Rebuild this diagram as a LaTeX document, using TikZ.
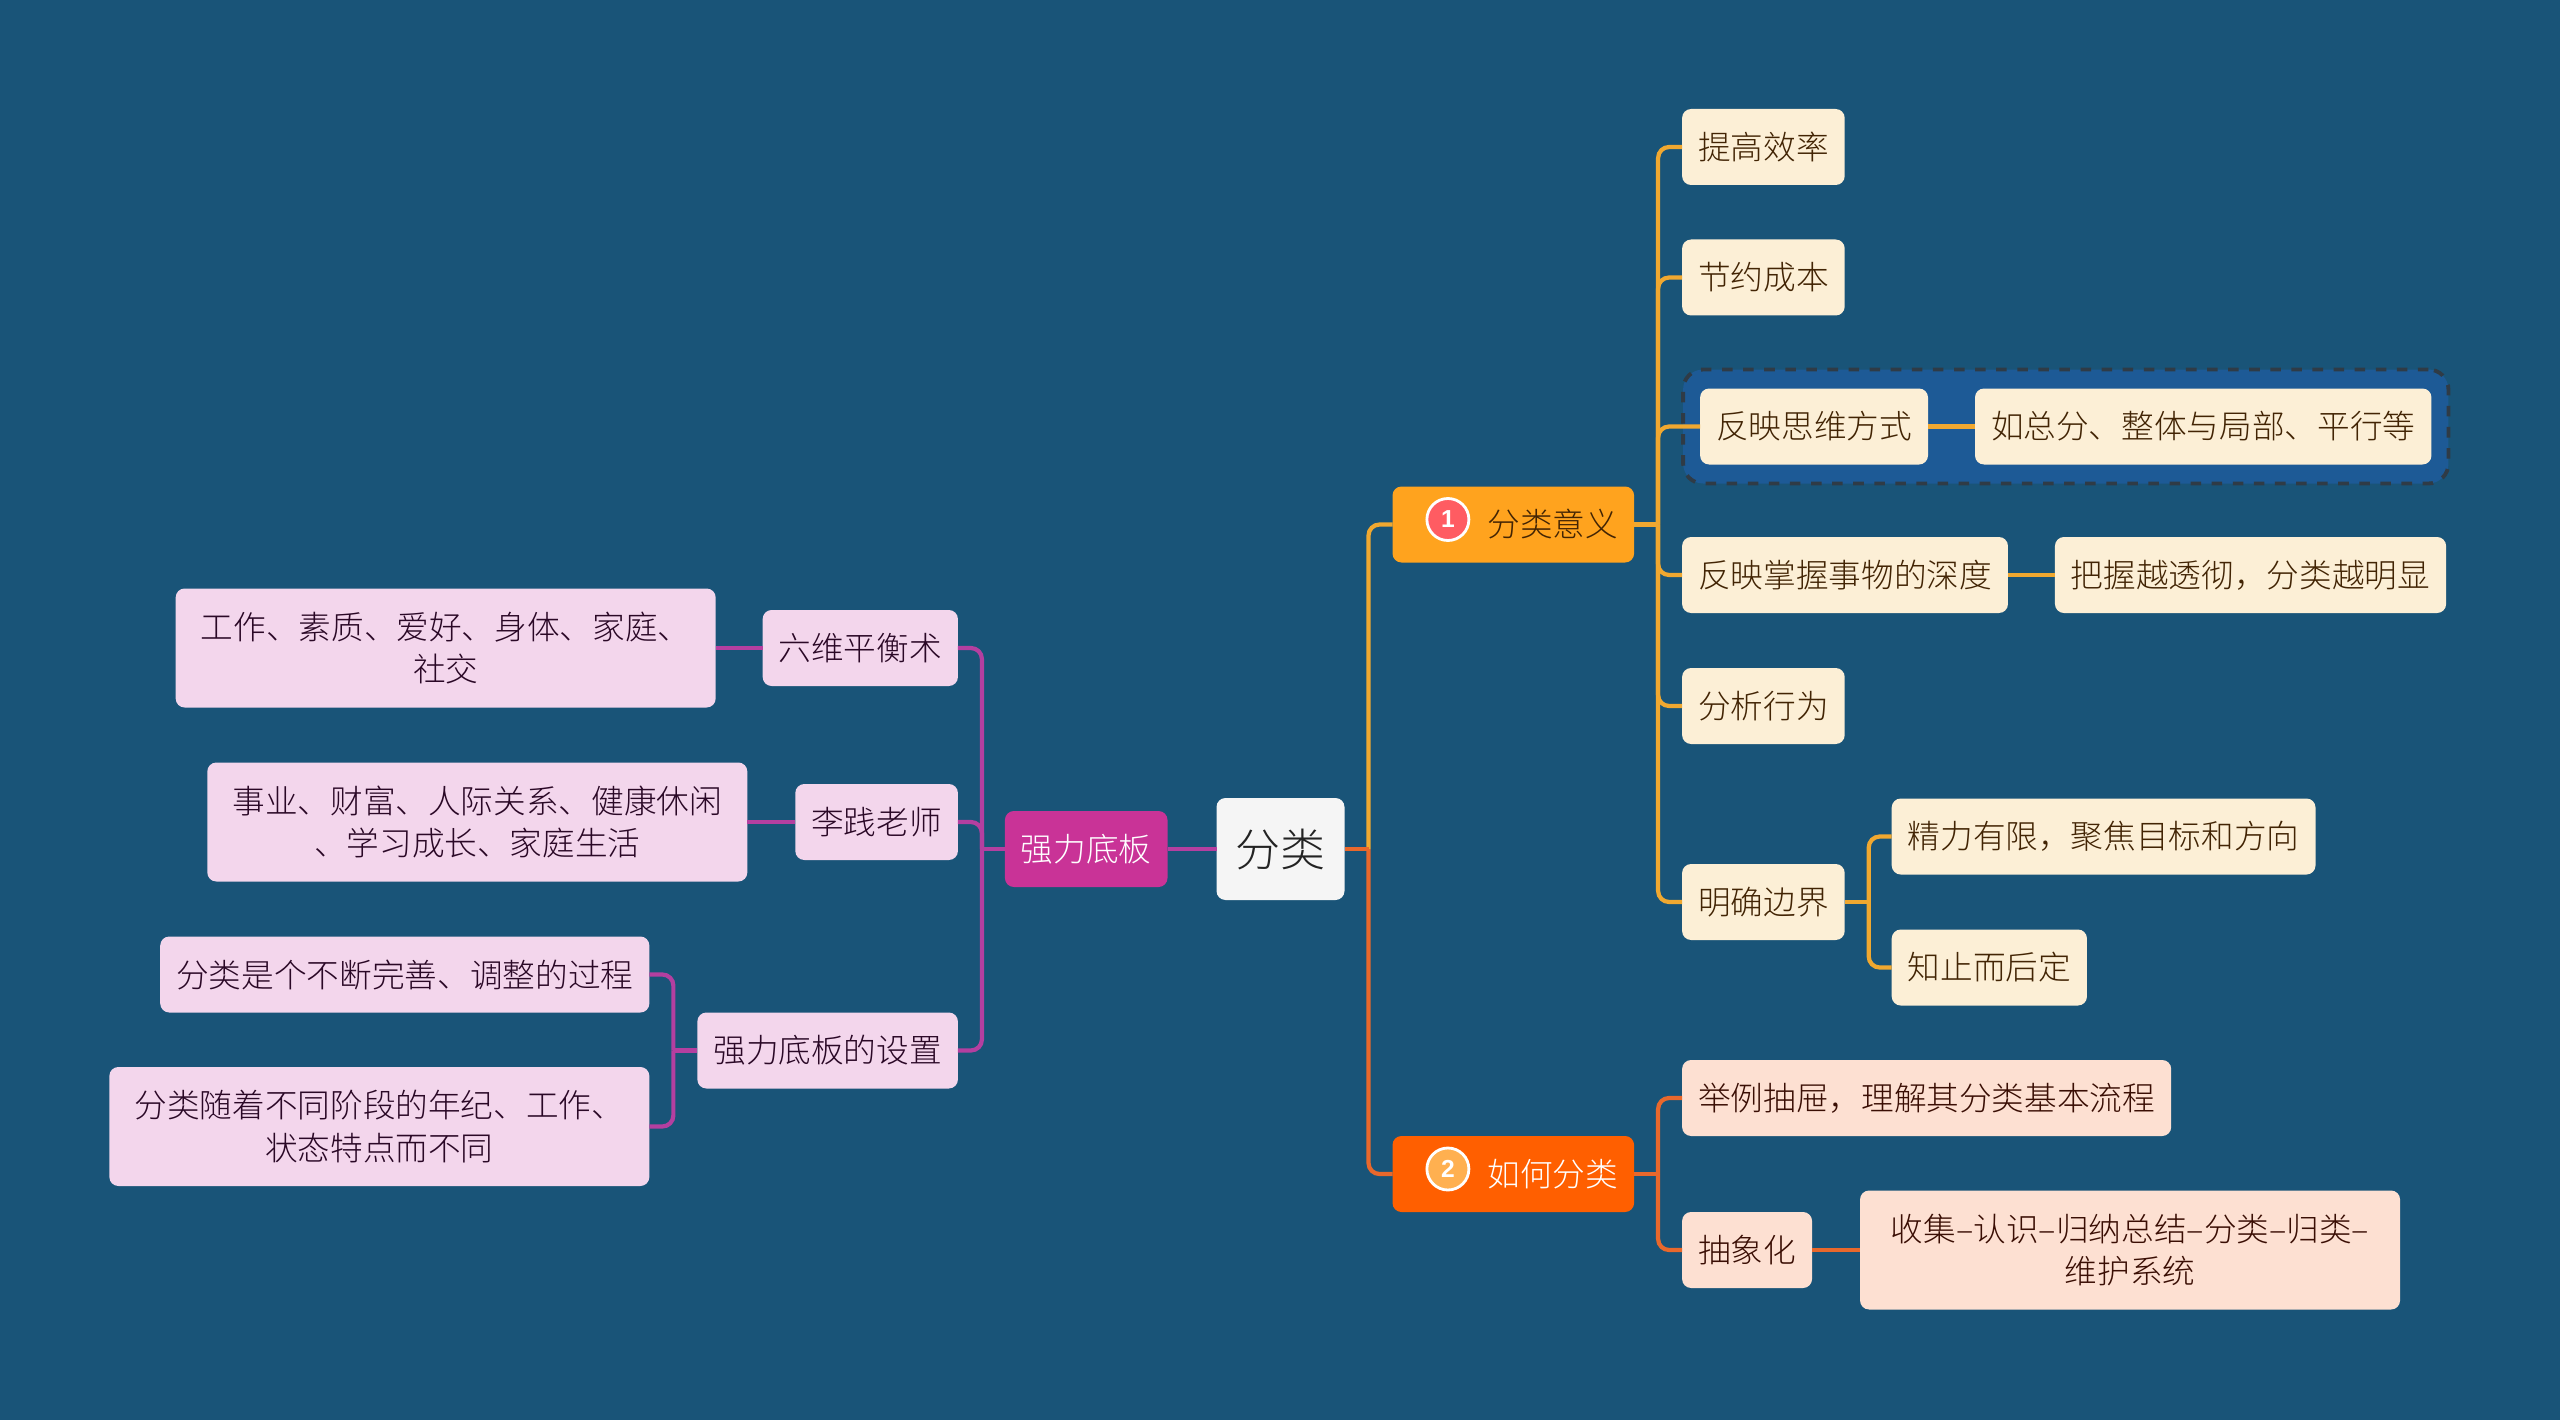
\documentclass[tikz,border=0pt]{standalone}
\usepackage{fontspec}
\setmainfont{Noto Sans CJK SC}[UprightFont=* Light]
\newfontfamily\numfont{Liberation Sans}
\usepackage{xcolor}
\usetikzlibrary{
  positioning,
  fit,
  backgrounds
}
\definecolor{pagebg}{RGB}{25, 84, 120}
\definecolor{rootbg}{RGB}{245, 245, 245}
\definecolor{rootink}{RGB}{35, 35, 35}
\definecolor{amberbg}{RGB}{255, 163, 30}
\definecolor{amberline}{RGB}{240, 168, 48}
\definecolor{amberink}{RGB}{66, 36, 4}
\definecolor{creambg}{RGB}{252, 239, 214}
\definecolor{emberbg}{RGB}{255, 95, 0}
\definecolor{emberline}{RGB}{232, 104, 44}
\definecolor{emberink}{RGB}{58, 14, 4}
\definecolor{peachbg}{RGB}{253, 224, 210}
\definecolor{plumbg}{RGB}{201, 51, 151}
\definecolor{plumline}{RGB}{180, 63, 160}
\definecolor{plumink}{RGB}{42, 8, 38}
\definecolor{pinkbg}{RGB}{243, 214, 236}
\definecolor{framebg}{RGB}{29, 90, 150}
\definecolor{frameink}{RGB}{47, 59, 70}
\definecolor{badgered}{RGB}{255, 92, 98}
\definecolor{badgeamber}{RGB}{255, 176, 80}
\tikzset{
  base/.style = {
    rectangle, rounded corners=0.09cm, inner xsep=0.16cm, inner ysep=0pt,
    outer sep=0pt, minimum height=0.76cm, align=center,
    font=\fontsize{9.29}{12.2}\selectfont
  },
  rootnode/.style = {
    base, fill=rootbg, text=rootink, minimum height=1.02cm,
    inner xsep=0.19cm, font=\fontsize{12.8}{15}\selectfont
  },
  topic/.style = {base, fill=#1bg, draw=none},
  leaf/.style = {base, fill=#1},
  wide/.style = {minimum height=1.19cm, text width=5.08cm},
  lnk/.style = {draw=#1, line width=1.2pt, rounded corners=0.11cm},
  badge/.style = {
    circle, draw=white, line width=0.8pt, fill=#1, text=white,
    minimum size=0.42cm, inner sep=0pt,
    font=\numfont\bfseries\fontsize{7}{7}\selectfont
  },
  bbox/.style = {
    draw=frameink, dashed, line width=1.1pt, fill=framebg,
    rounded corners=0.2cm, inner xsep=0.17cm, inner ysep=0.19cm
  },
}
\begin{document}
\begin{tikzpicture}

  %% -- page ----------------------------------------------------------------
  \useasboundingbox (0,0) rectangle (25.6,14.19);
  \begin{pgfonlayer}{background}
    \fill[pagebg] (-0.1,-0.1) rectangle (25.7,14.3);
  \end{pgfonlayer}

  \node[rootnode] (root) at (12.805,5.70) {分类};

  %% -- right side, first topic ---------------------------------------------
  \node[topic=amber, text=amberink, right=0.48cm of root, yshift=3.245cm] (meaning)
    {\hspace*{0.79cm}分类意义};
  \node[badge=badgered, right=0.33cm of meaning.west, yshift=0.05cm] (num1) {1};

  \node[leaf=creambg, text=amberink, right=0.48cm of meaning, yshift=3.775cm] (effic) {提高效率};
  \node[leaf=creambg, text=amberink, right=0.48cm of meaning, yshift=2.47cm] (saving) {节约成本};
  \node[leaf=creambg, text=amberink, right=0.66cm of meaning, yshift=0.98cm] (think) {反映思维方式};
  \node[leaf=creambg, text=amberink, right=0.47cm of think] (think_ex) {如总分、整体与局部、平行等};
  \node[leaf=creambg, text=amberink, right=0.48cm of meaning, yshift=-0.505cm] (depth) {反映掌握事物的深度};
  \node[leaf=creambg, text=amberink, right=0.47cm of depth] (depth_ex) {把握越透彻，分类越明显};
  \node[leaf=creambg, text=amberink, right=0.48cm of meaning, yshift=-1.815cm] (behave) {分析行为};
  \node[leaf=creambg, text=amberink, right=0.48cm of meaning, yshift=-3.775cm] (edge) {明确边界};
  \node[leaf=creambg, text=amberink, right=0.47cm of edge, yshift=0.655cm] (edge_a) {精力有限，聚焦目标和方向};
  \node[leaf=creambg, text=amberink, right=0.47cm of edge, yshift=-0.655cm] (edge_b) {知止而后定};

  \begin{pgfonlayer}{background}
    \node[bbox, fit=(think)(think_ex)] (frame) {};
  \end{pgfonlayer}

  %% -- right side, second topic --------------------------------------------
  \node[topic=ember, text=white, right=0.48cm of root, yshift=-3.25cm] (howto)
    {\hspace*{0.79cm}如何分类};
  \node[badge=badgeamber, right=0.33cm of howto.west, yshift=0.05cm] (num2) {2};

  \node[leaf=peachbg, text=emberink, right=0.48cm of howto, yshift=0.76cm] (sample) {举例抽屉，理解其分类基本流程};
  \node[leaf=peachbg, text=emberink, right=0.48cm of howto, yshift=-0.76cm] (abstr) {抽象化};
  \node[leaf=peachbg, text=emberink, wide, right=0.48cm of abstr] (steps)
    {收集--认识--归纳总结--分类--归类--\\维护系统};

  %% -- left side -----------------------------------------------------------
  \node[topic=plum, text=white, left=0.49cm of root] (floor) {强力底板};

  \node[leaf=pinkbg, text=plumink, left=0.47cm of floor, yshift=2.01cm] (six) {六维平衡术};
  \node[leaf=pinkbg, text=plumink, wide, left=0.47cm of six] (six_ex)
    {工作、素质、爱好、身体、家庭、\\社交};
  \node[leaf=pinkbg, text=plumink, left=0.47cm of floor, yshift=0.27cm] (teacher) {李践老师};
  \node[leaf=pinkbg, text=plumink, wide, left=0.48cm of teacher] (teacher_ex)
    {事业、财富、人际关系、健康休闲\\、学习成长、家庭生活};
  \node[leaf=pinkbg, text=plumink, left=0.47cm of floor, yshift=-2.015cm] (setup) {强力底板的设置};
  \node[leaf=pinkbg, text=plumink, left=0.48cm of setup, yshift=0.76cm] (setup_a) {分类是个不断完善、调整的过程};
  \node[leaf=pinkbg, text=plumink, wide, left=0.48cm of setup, yshift=-0.76cm] (setup_b)
    {分类随着不同阶段的年纪、工作、\\状态特点而不同};

  %% -- connectors ----------------------------------------------------------
  \coordinate[right=0.24cm of root.east] (rootj);
  \coordinate[right=0.24cm of meaning.east] (meanj);
  \coordinate[right=0.24cm of edge.east] (edgej);
  \coordinate[right=0.24cm of howto.east] (howj);
  \coordinate[left=0.23cm of floor.west] (floorj);
  \coordinate[left=0.24cm of setup.west] (setupj);

  \draw[lnk=amberline] (rootj) |- (meaning.west);
  \draw[lnk=emberline] (rootj) |- (howto.west);
  \draw[lnk=emberline] (root.east) -- (rootj);
  \draw[lnk=plumline]  (root.west) -- (floor.east);

  \draw[lnk=amberline] (meanj) |- (effic.west);
  \draw[lnk=amberline] (meanj) |- (saving.west);
  \draw[lnk=amberline] (meanj) |- (think.west);
  \draw[lnk=amberline] (meanj) |- (depth.west);
  \draw[lnk=amberline] (meanj) |- (behave.west);
  \draw[lnk=amberline] (meanj) |- (edge.west);
  \draw[lnk=amberline] (meaning.east) -- (meanj);
  \draw[lnk=amberline] (think) -- (think_ex);
  \draw[lnk=amberline] (depth) -- (depth_ex);
  \draw[lnk=amberline] (edgej) |- (edge_a.west);
  \draw[lnk=amberline] (edgej) |- (edge_b.west);
  \draw[lnk=amberline] (edge.east) -- (edgej);

  \draw[lnk=emberline] (howj) |- (sample.west);
  \draw[lnk=emberline] (howj) |- (abstr.west);
  \draw[lnk=emberline] (howto.east) -- (howj);
  \draw[lnk=emberline] (abstr) -- (steps);

  \draw[lnk=plumline] (floorj) |- (six.east);
  \draw[lnk=plumline] (floorj) |- (teacher.east);
  \draw[lnk=plumline] (floorj) |- (setup.east);
  \draw[lnk=plumline] (floor.west) -- (floorj);
  \draw[lnk=plumline] (six) -- (six_ex);
  \draw[lnk=plumline] (teacher) -- (teacher_ex);
  \draw[lnk=plumline] (setupj) |- (setup_a.east);
  \draw[lnk=plumline] (setupj) |- (setup_b.east);
  \draw[lnk=plumline] (setup.west) -- (setupj);

\end{tikzpicture}
\end{document}
